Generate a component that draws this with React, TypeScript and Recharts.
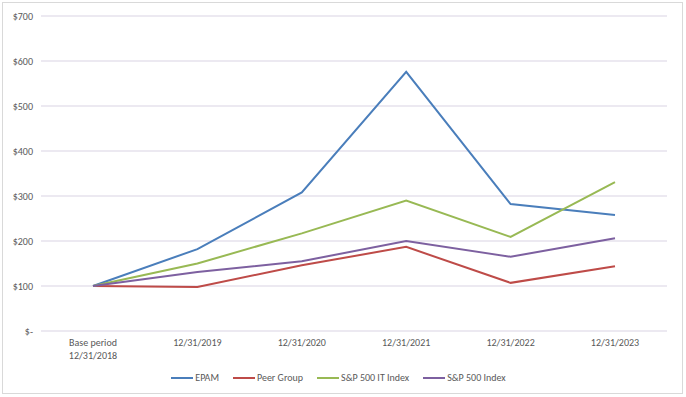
import React from "react";
import { LineChart, Line, XAxis, YAxis, CartesianGrid, Legend } from "recharts";

const categories = ["Base period\n12/31/2018", "12/31/2019", "12/31/2020", "12/31/2021", "12/31/2022", "12/31/2023"];
const epam = [100, 182, 308, 576, 282, 258];
const peerGroup = [100, 98, 146, 187, 107, 144];
const spIT = [100, 150, 217, 290, 209, 331];
const sp500 = [100, 131, 155, 200, 165, 206];
const yTicks = [0, 100, 200, 300, 400, 500, 600, 700];

const data = categories.map((c, i) => ({
  cat: c,
  epam: epam[i],
  peer: peerGroup[i],
  it: spIT[i],
  sp: sp500[i],
}));

const FONT = 'Carlito, "Liberation Sans", Arial, sans-serif';
const TXT = "#595959";

const XTick = (props: any) => {
  const { x, y, payload } = props;
  const lines = String(payload.value).split("\n");
  return (
    <g>
      {lines.map((l: string, i: number) => (
        <text key={i} x={x} y={y} dy={`${0.71 + i * 1.3}em`} textAnchor="middle" fill={TXT} fontSize={10} fontFamily={FONT}>
          {l}
        </text>
      ))}
    </g>
  );
};

const LegendContent = (props: any) => {
  const { payload } = props;
  return (
    <div style={{ position: "relative", top: 4, display: "flex", justifyContent: "center", alignItems: "center", fontSize: 10, fontFamily: FONT, color: TXT, paddingLeft: 24 }}>
      {(payload || []).map((p: any, i: number) => (
        <div key={i} style={{ display: "flex", alignItems: "center", marginRight: 14 }}>
          <div style={{ width: 22, height: 2, background: p.color, marginRight: 2 }} />
          <span>{p.value}</span>
        </div>
      ))}
    </div>
  );
};

const yFmt = (v: number) => (v === 0 ? "$-" : `$${v}`);

export default function App() {
  return (
    <div style={{ position: "absolute", left: 0, top: 0, width: 686, height: 397, background: "#fff" }}>
      <div style={{ position: "absolute", left: 2, top: 2, width: 679, height: 390, border: "1px solid #d9d9d9" }} />
      <div style={{ position: "absolute", left: 0, top: 0 }}>
        <LineChart width={686} height={397} data={data} margin={{ top: 16, right: 19, bottom: 0, left: 0 }}>
          <CartesianGrid vertical={false} stroke="#d9d3e3" strokeWidth={1} />
          <XAxis
            dataKey="cat"
            axisLine={false}
            tickLine={false}
            interval={0}
            height={36}
            padding={{ left: 52, right: 52 }}
            tick={<XTick />}
          />
          <YAxis
            domain={[0, 700]}
            ticks={yTicks}
            tickFormatter={yFmt}
            axisLine={false}
            tickLine={false}
            width={41}
            tick={{ fill: TXT, fontSize: 10, fontFamily: FONT }}
          />
          <Legend verticalAlign="bottom" height={30} content={<LegendContent />} />
          <Line type="linear" dataKey="epam" name="EPAM" stroke="#4a7ebb" strokeWidth={2} dot={false} isAnimationActive={false} />
          <Line type="linear" dataKey="peer" name="Peer Group" stroke="#be4b48" strokeWidth={2} dot={false} isAnimationActive={false} />
          <Line type="linear" dataKey="it" name="S&P 500 IT Index" stroke="#98b954" strokeWidth={2} dot={false} isAnimationActive={false} />
          <Line type="linear" dataKey="sp" name="S&P 500 Index" stroke="#7d60a0" strokeWidth={2} dot={false} isAnimationActive={false} />
        </LineChart>
      </div>
    </div>
  );
}
